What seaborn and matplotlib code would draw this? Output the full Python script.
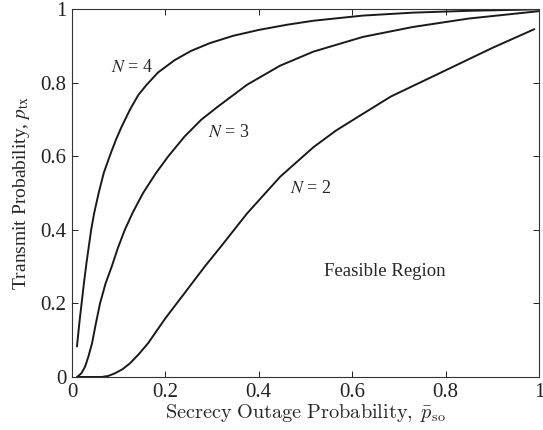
import numpy as np
import pandas as pd
import matplotlib
matplotlib.use("Agg")
import matplotlib.pyplot as plt
import seaborn as sns

# Secrecy outage probability vs. transmit probability for N = 2, 3, 4
p_so_n4 = [0.0106, 0.016, 0.021, 0.026, 0.031, 0.036, 0.041, 0.047, 0.057, 0.068, 0.082,
           0.094, 0.106, 0.124, 0.142, 0.160, 0.184, 0.220, 0.255, 0.295, 0.345, 0.40,
           0.46, 0.517, 0.623, 0.73, 0.85, 1.00]
p_tx_n4 = [0.083, 0.15, 0.205, 0.26, 0.31, 0.355, 0.40, 0.443, 0.50, 0.555, 0.605,
           0.645, 0.68, 0.727, 0.767, 0.795, 0.828, 0.862, 0.887, 0.908, 0.928, 0.944,
           0.958, 0.969, 0.983, 0.991, 0.996, 1.00]

p_so_n3 = [0.011, 0.02, 0.028, 0.035, 0.043, 0.051, 0.060, 0.072, 0.085, 0.098, 0.113,
           0.130, 0.152, 0.180, 0.206, 0.241, 0.277, 0.312, 0.375, 0.446, 0.517, 0.623,
           0.73, 0.85, 1.00]
p_tx_n3 = [0.0, 0.01, 0.028, 0.055, 0.092, 0.145, 0.20, 0.255, 0.30, 0.35, 0.40,
           0.447, 0.50, 0.555, 0.60, 0.654, 0.70, 0.735, 0.795, 0.847, 0.885, 0.925,
           0.952, 0.975, 0.995]

p_so_n2 = [0.011, 0.064, 0.078, 0.092, 0.108, 0.124, 0.143, 0.163, 0.199, 0.241, 0.284,
           0.319, 0.375, 0.446, 0.517, 0.565, 0.613, 0.683, 0.79, 0.90, 0.99]
p_tx_n2 = [0.0, 0.0, 0.003, 0.01, 0.021, 0.037, 0.062, 0.092, 0.158, 0.228, 0.30,
           0.355, 0.445, 0.545, 0.625, 0.67, 0.708, 0.763, 0.828, 0.895, 0.946]

curve_labels = ["N = 4", "N = 3", "N = 2"]
label_pos = [(0.128, 0.842), (0.336, 0.664), (0.511, 0.512)]

frames = []
for lab, xs, ys in zip(curve_labels, [p_so_n4, p_so_n3, p_so_n2],
                       [p_tx_n4, p_tx_n3, p_tx_n2]):
    frames.append(pd.DataFrame({"p_so": xs, "p_tx": ys, "N": lab}))
df = pd.concat(frames, ignore_index=True)

sns.set_style("ticks")
plt.rcParams["font.family"] = ["Liberation Serif", "DejaVu Serif"]
plt.rcParams["xtick.direction"] = "in"
plt.rcParams["ytick.direction"] = "in"

fig = plt.figure(figsize=(5.43, 4.30), dpi=100)
ax = fig.add_axes([0.1326, 0.1233, 0.860, 0.855])

sns.lineplot(data=df, x="p_so", y="p_tx", hue="N", units="N", estimator=None,
             palette=["#1a1a1a"] * 3, linewidth=1.4, legend=False, sort=False, ax=ax)

ax.set_xlim(0, 1)
ax.set_ylim(0, 1)
ticks = [0, 0.2, 0.4, 0.6, 0.8, 1]
tick_labels = ["0", "0.2", "0.4", "0.6", "0.8", "1"]
ax.set_xticks(ticks)
ax.set_xticklabels(tick_labels)
ax.set_yticks(ticks)
ax.set_yticklabels(tick_labels)
ax.tick_params(axis="both", which="major", labelsize=15, length=4, width=0.7,
               top=True, right=True, direction="in", pad=4, colors="#222222")
for s in ax.spines.values():
    s.set_visible(True)
    s.set_linewidth(0.8)
    s.set_color("#333333")

xl = ax.set_xlabel(r"$\mathrm{Secrecy\ Outage\ Probability,}\;\bar{p}_{\mathrm{so}}$",
                   fontsize=14.6, labelpad=0)
xl.set_math_fontfamily("cm")
yl = ax.set_ylabel(r"Transmit Probability, $p_{\mathrm{tx}}$", fontsize=14, labelpad=6)
yl.set_math_fontfamily("stix")

for lab, (tx, ty) in zip(curve_labels, label_pos):
    t = ax.text(tx, ty, r"$N$ = " + lab.split("= ")[1], fontsize=13,
                ha="center", va="center")
    t.set_math_fontfamily("stix")

ax.text(0.67, 0.288, "Feasible Region", fontsize=13.5, ha="center", va="center")

fig.savefig("out.png", dpi=100)
